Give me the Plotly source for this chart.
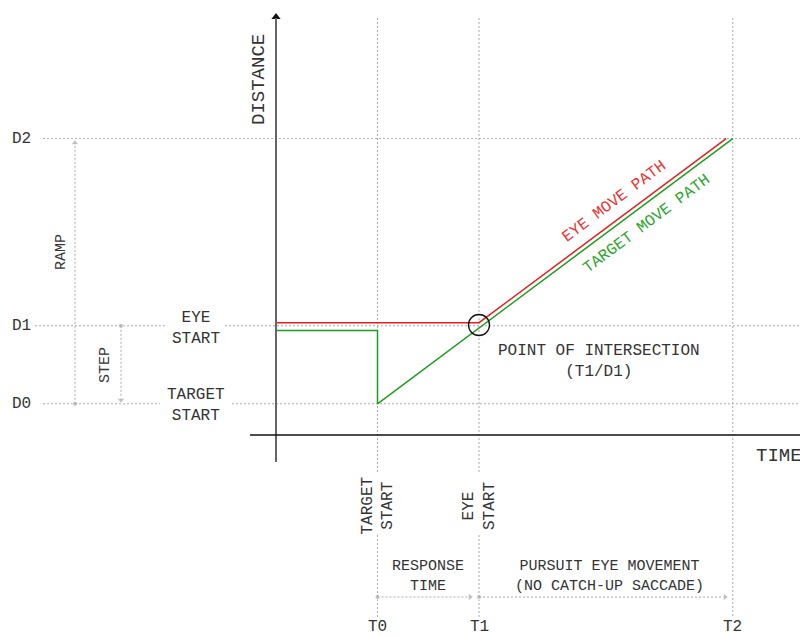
import plotly.graph_objects as go

# ---- data ----
time_labels = ["T0", "T1", "T2"]
time_values = [2, 4, 9]
dist_labels = ["D0", "D1", "D2"]
dist_values = [1, 3.5, 9.5]
eye_x = [0, 4, 8.87]
eye_y = [3.6, 3.6, 9.5]
target_x = [0, 2, 2, 9]
target_y = [3.35, 3.35, 1, 9.5]

# ---- pixel helpers (layout only; page has an 8px body margin) ----
X0_PX, X_SCALE = 276, 50.75
Y0_PX, Y_SCALE = 435, 31.2
PAGE_OFF = 8
def xd(px):
    return (px - X0_PX) / X_SCALE
def yd(py):
    return (Y0_PX - py) / Y_SCALE

FONT = "Liberation Mono, Courier New, monospace"
TXT = "#333333"
GRID = "#aaaaaa"
RED = "#ee1c1c"
GREEN = "#1c9e1c"

fig = go.Figure()
shapes = []

def dline(x0, y0, x1, y1, color=GRID, width=1, dash="2px,2px"):
    shapes.append(dict(type="line", xref="x", yref="y", x0=x0, y0=y0, x1=x1, y1=y1,
                       line=dict(color=color, width=width, dash=dash), layer="below"))

# horizontal grid lines
d0, d1, d2 = dist_values
dline(xd(43), d2, xd(808), d2)
dline(xd(35), d1, xd(165), d1)
dline(xd(225), d1, xd(808), d1)
dline(xd(43), d0, xd(160), d0)
dline(xd(232), d0, xd(808), d0)
# vertical grid lines
t0, t1, t2 = time_values
for t in (t0, t1):
    dline(t, yd(18), t, yd(473))
    dline(t, yd(535), t, yd(617))
dline(t2, yd(18), t2, yd(618))

# axes
shapes.append(dict(type="line", xref="x", yref="y", x0=0, y0=yd(462), x1=0, y1=yd(18),
                   line=dict(color="#666666", width=2)))
shapes.append(dict(type="line", xref="x", yref="y", x0=xd(250), y0=0, x1=xd(808), y1=0,
                   line=dict(color="#111111", width=1.6)))
fig.add_trace(go.Scatter(x=[0], y=[yd(17)], mode="markers",
                         marker=dict(symbol="triangle-up", size=8, color="#111111"),
                         hoverinfo="skip"))

# paths
fig.add_trace(go.Scatter(x=target_x, y=target_y, mode="lines",
                         line=dict(color=GREEN, width=1.5), hoverinfo="skip"))
fig.add_trace(go.Scatter(x=eye_x, y=eye_y, mode="lines",
                         line=dict(color=RED, width=1.5), hoverinfo="skip"))
# intersection circle
fig.add_trace(go.Scatter(x=[t1], y=[yd(325)], mode="markers",
                         marker=dict(symbol="circle-open", size=21, color="#111111",
                                     line=dict(color="#111111", width=1.3)),
                         hoverinfo="skip"))

# dotted arrows
def arrow(xs, ys, head):
    fig.add_trace(go.Scatter(x=xs, y=ys, mode="lines",
                             line=dict(color=GRID, width=1, dash="2px,2px"),
                             hoverinfo="skip"))
    fig.add_trace(go.Scatter(x=[xs[0], xs[1]], y=[ys[0], ys[1]], mode="markers",
                             marker=dict(symbol=["circle", head], size=[5, 7], color=GRID),
                             hoverinfo="skip"))

arrow([xd(75), xd(75)], [d0, yd(143)], "triangle-up")
arrow([xd(121), xd(121)], [d1, yd(400)], "triangle-down")
arrow([t0, xd(470)], [yd(597), yd(597)], "triangle-right")
arrow([t1, xd(725)], [yd(597), yd(597)], "triangle-right")

ann = []
def text(x, y, s, size=16, color=TXT, angle=0):
    ann.append(dict(x=x, y=y, xref="x", yref="y", text=s, showarrow=False,
                    textangle=angle, xanchor="center", yanchor="middle",
                    font=dict(family=FONT, size=size, color=color)))

for lbl, v in zip(dist_labels, dist_values):
    text(xd(21), v, lbl)
for lbl, v in zip(time_labels, time_values):
    ann.append(dict(x=v, y=yd(637), xref="x", yref="y", text=lbl, showarrow=False,
                    xanchor="center", yanchor="bottom", borderpad=0,
                    font=dict(family=FONT, size=16, color=TXT)))

text(xd(259), yd(80), "DISTANCE", size=19, angle=-90)
text(xd(779), yd(456), "TIME", size=19)
text(xd(61), yd(252), "RAMP", size=15, angle=-90)
text(xd(105), yd(365), "STEP", size=15, angle=-90)
text(xd(196), yd(328), "EYE<br>START")
text(xd(196), yd(405), "TARGET<br>START")
text(xd(599), yd(361.5), "POINT OF INTERSECTION<br>(T1/D1)")
text(xd(614), yd(202), "EYE MOVE PATH", color="#f03030", angle=-36.8)
text(xd(647), yd(224), "TARGET MOVE PATH", color="#2aa62a", angle=-36.8)
text(t0, yd(506), "TARGET<br>START", angle=-90)
text(t1, yd(506), "EYE<br>START", angle=-90)
text(xd(428), yd(576), "RESPONSE<br>TIME", size=15)
text(xd(609), yd(576), "PURSUIT EYE MOVEMENT<br>(NO CATCH-UP SACCADE)", size=15)

fig.update_layout(
    width=808, height=637,
    margin=dict(l=0, r=0, t=0, b=0),
    paper_bgcolor="white", plot_bgcolor="white",
    showlegend=False,
    xaxis=dict(range=[xd(PAGE_OFF), xd(808 + PAGE_OFF)], visible=False, fixedrange=True),
    yaxis=dict(range=[yd(637 + PAGE_OFF), yd(PAGE_OFF)], visible=False, fixedrange=True),
    shapes=shapes, annotations=ann,
)

fig.write_html("out.html")
